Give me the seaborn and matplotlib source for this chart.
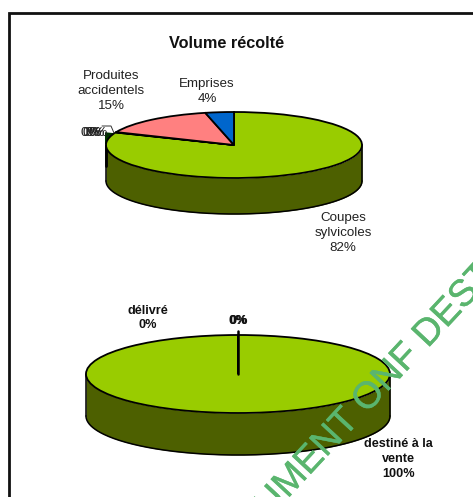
import numpy as np
import matplotlib
matplotlib.use('Agg')
import matplotlib.pyplot as plt
import matplotlib.patheffects as pe
from matplotlib.patches import Rectangle
import seaborn as sns

# top pie
harvest_names = ['Coupes\nsylvicoles', 'divers', 'Produites\naccidentels', 'Emprises']
harvest_values = [81.2, 0.2, 15.0, 3.6]
harvest_labels = ['82%', '0%', '15%', '4%']
harvest_colors = ['#99cc00', '#003300', '#ff8080', '#0066cc']

# bottom pie
dest_names = ['destiné à la\nvente', 'délivré', 'autre']
dest_values = [100, 0, 0]
dest_colors = ['#99cc00', '#99cc00', '#99cc00']

# hidden slices at the left edge of the top pie, sticking out behind it
tiny_values = [5.5, 94.5]

W, H = 473, 497
WALL = '#4d6000'

sns.set_theme(style='white')
plt.rcParams['font.family'] = ['Liberation Sans', 'DejaVu Sans']

fig = plt.figure(figsize=(W / 100, H / 100), dpi=100, facecolor='white')


def pie3d(cx, cy, rx, ry, depth, values, colors):
    # axes box = ellipse + wall, so the round pie gets squashed by the scales
    ax = fig.add_axes([(cx - rx) / W, 1 - (cy + ry + depth) / H, 2 * rx / W, (2 * ry + depth) / H], zorder=2)
    ax.patch.set_alpha(0)
    ax.pie(values, colors=colors, startangle=90, counterclock=False, radius=1,
           wedgeprops={'edgecolor': 'black', 'linewidth': 1.3, 'zorder': 3})
    d = depth / ry
    t = np.linspace(np.pi, 2 * np.pi, 200)
    ax.fill_between(np.cos(t), np.sin(t), np.sin(t) - d, color=WALL, lw=0, zorder=1)
    ax.plot(np.cos(t), np.sin(t) - d, color='black', lw=1.1, zorder=2, clip_on=False)
    ax.plot([-1, -1], [0, -d], color='black', lw=1.1, zorder=2, clip_on=False)
    ax.plot([1, 1], [0, -d], color='black', lw=1.1, zorder=2, clip_on=False)
    ax.set_aspect('auto')
    ax.set_xlim(-1, 1)
    ax.set_ylim(-1 - d, 1)
    ax.axis('off')
    return ax, d


ax1, d1 = pie3d(234, 145, 128, 33, 36, harvest_values, harvest_colors)
tiny, _ = ax1.pie(tiny_values, colors=['#003300', 'none'], startangle=159, counterclock=True, radius=1.08,
                  wedgeprops={'linewidth': 0, 'zorder': 0})
# pie turns clipping off, the dark bit must stop at the pie's left edge
tiny[0].set_clip_on(True)
tiny[0].set_clip_path(Rectangle((-1.008, -1), 2, 2, transform=ax1.transData))
ax1.set_aspect('auto')
ax1.set_xlim(-1, 1)
ax1.set_ylim(-1 - d1, 1)
ax1.axis('off')
ax1.plot([-1, -1], [0, -0.65], color='black', lw=2, zorder=2, clip_on=False)

ax2, d2 = pie3d(238, 374, 152, 39, 42, dest_values, dest_colors)

# overlay in pixel coordinates for frame, labels, leader lines
top = fig.add_axes([0, 0, 1, 1], zorder=5)
top.patch.set_alpha(0)
top.set_xlim(0, W)
top.set_ylim(H, 0)
top.axis('off')

top.plot([9, 9, W], [H, 12.5, 12.5], color='#111111', lw=2, solid_joinstyle='miter')

top.text(226.5, 43.5, 'Volume récolté', fontsize=11.7, fontweight='bold', ha='center', va='center', color='#111111')

label_kw = dict(fontsize=9.6, ha='center', va='center', color='#222222', linespacing=1.37)
top.text(111, 91, harvest_names[2] + '\n' + harvest_labels[2], **label_kw)
top.text(207, 91.5, harvest_names[3] + '\n' + harvest_labels[3], **label_kw)
top.text(343, 233, harvest_names[0] + '\n' + harvest_labels[0], **label_kw)

# overlapping 0% labels from the empty slices
for x in [90, 92.5, 95, 98]:
    top.text(x, 133, harvest_labels[1], fontsize=9.6, ha='center', va='center', color='#222222')
top.plot([102, 111, 114], [126, 126, 133], color='#333333', lw=0.7)

bold_kw = dict(fontsize=9.1, fontweight='bold', ha='center', va='center', color='#111111', linespacing=1.33)
top.text(147.5, 318, dest_names[1] + '\n0%', **bold_kw)
top.text(398.5, 459, dest_names[0] + '\n100%', **bold_kw)
for x in [237.6, 238.4]:
    top.text(x, 321, '0%', **bold_kw)
top.plot([238, 238], [331, 374], color='black', lw=1.8)

top.text(368, 398, 'DOCUMENT ONF DESTINE', fontsize=27, rotation=47, rotation_mode='anchor',
         ha='center', va='center', color='#5ab56e', clip_on=True,
         path_effects=[pe.withStroke(linewidth=0.3, foreground='#5ab56e')])

fig.savefig('out.png', dpi=100)
